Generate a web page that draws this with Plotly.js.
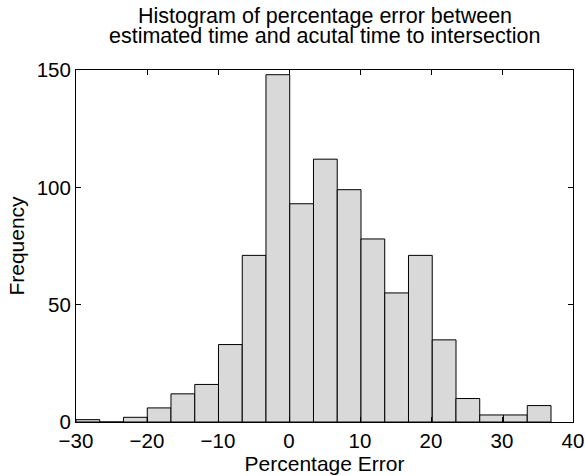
<!DOCTYPE html>
<html>
<head>
<meta charset="utf-8">
<script src="https://cdn.plot.ly/plotly-3.0.1.min.js"></script>
<style>html,body{margin:0;padding:0;background:#fff;}#chart{width:585px;height:476px;}</style>
</head>
<body>
<div id="chart"></div>
<script>
// Histogram bin centers (percentage error) and counts
var binCenters = [-28.33, -24.98, -21.64, -18.29, -14.95, -11.60, -8.26, -4.91, -1.57, 1.78,
                  5.12, 8.47, 11.81, 15.16, 18.50, 21.85, 25.19, 28.54, 31.88, 35.23];
var counts = [1, 0, 2, 6, 12, 16, 33, 71, 148, 93,
              112, 99, 78, 55, 71, 35, 10, 3, 3, 7];
var binWidth = 3.345;
var xTicks = [-30, -20, -10, 0, 10, 20, 30, 40];
var xTickLabels = ["\u221230", "\u221220", "\u221210", "0", "10", "20", "30", "40"];
var yTicks = [0, 50, 100, 150];
var titleLines = ["Histogram of percentage error between", "estimated time and acutal time to intersection"];

var font = "Liberation Sans, Arial, Helvetica, sans-serif";

var trace = {
  type: "bar",
  x: binCenters,
  y: counts,
  width: binCenters.map(function(){ return binWidth; }),
  marker: { color: "#d9d9d9", line: { color: "#000000", width: 1 } },
  hoverinfo: "x+y"
};

var layout = {
  width: 585, height: 476,
  margin: { l: 76, r: 12, t: 70, b: 54 },
  paper_bgcolor: "#ffffff", plot_bgcolor: "#ffffff",
  font: { family: font, size: 20, color: "#000000" },
  showlegend: false,
  bargap: 0,
  xaxis: {
    range: [-30, 40], tickmode: "array", tickvals: xTicks, ticktext: xTickLabels,
    ticks: "inside", ticklen: 5, tickwidth: 1, tickcolor: "#000",
    showline: true, linecolor: "#000", linewidth: 1, mirror: "ticks",
    showgrid: false, zeroline: false,
    tickfont: { family: font, size: 20.5, color: "#000" },
    title: { text: "Percentage Error", font: { family: font, size: 21, color: "#000" }, standoff: 0 }
  },
  yaxis: {
    range: [0, 150], tickmode: "array", tickvals: yTicks,
    ticks: "inside", ticklen: 5, tickwidth: 1, tickcolor: "#000",
    showline: true, linecolor: "#000", linewidth: 1, mirror: "ticks",
    showgrid: false, zeroline: false,
    tickfont: { family: font, size: 20.5, color: "#000" },
    title: { text: "Frequency", font: { family: font, size: 21, color: "#000" }, standoff: 6 }
  },
  annotations: [
    { text: titleLines[0], xref: "paper", yref: "paper", x: 0.5, y: 1.152, xanchor: "center", yanchor: "middle", showarrow: false, font: { family: font, size: 21.5, color: "#000" } },
    { text: titleLines[1], xref: "paper", yref: "paper", x: 0.5, y: 1.097, xanchor: "center", yanchor: "middle", showarrow: false, font: { family: font, size: 21.5, color: "#000" } }
  ]
};

Plotly.newPlot("chart", [trace], layout, { displayModeBar: false, staticPlot: true });
</script>
</body>
</html>
